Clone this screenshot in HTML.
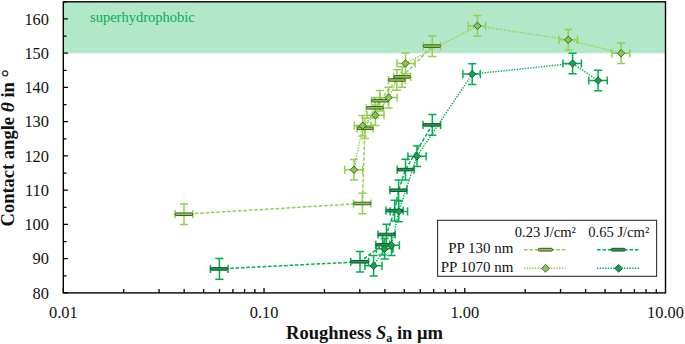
<!DOCTYPE html>
<html><head><meta charset="utf-8"><style>
html,body{margin:0;padding:0;background:#fff;}
svg{display:block;}
</style></head><body>
<svg width="685" height="344" viewBox="0 0 685 344">
<rect x="63.3" y="1.8" width="602.2" height="51.370588235294136" fill="#b2e7ca"/><text x="90" y="22" font-size="14.5" fill="#00B050" font-family="Liberation Serif">superhydrophobic</text><path d="M63.3 292.9h4.6M63.3 275.78h3.2M63.3 258.65h4.6M63.3 241.53h3.2M63.3 224.41h4.6M63.3 207.28h3.2M63.3 190.16h4.6M63.3 173.04h3.2M63.3 155.91h4.6M63.3 138.79h3.2M63.3 121.66h4.6M63.3 104.54h3.2M63.3 87.42h4.6M63.3 70.29h3.2M63.3 53.17h4.6M63.3 36.05h3.2M63.3 18.92h4.6M63.3 1.8h3.2M63.3 292.9v-4.8M123.73 292.9v-3.8M159.07 292.9v-3.8M184.15 292.9v-3.8M203.61 292.9v-3.8M219.5 292.9v-3.8M232.94 292.9v-3.8M244.58 292.9v-3.8M254.85 292.9v-3.8M264.03 292.9v-4.8M324.46 292.9v-3.8M359.81 292.9v-3.8M384.89 292.9v-3.8M404.34 292.9v-3.8M420.23 292.9v-3.8M433.67 292.9v-3.8M445.31 292.9v-3.8M455.58 292.9v-3.8M464.77 292.9v-4.8M525.19 292.9v-3.8M560.54 292.9v-3.8M585.62 292.9v-3.8M605.07 292.9v-3.8M620.97 292.9v-3.8M634.41 292.9v-3.8M646.05 292.9v-3.8M656.31 292.9v-3.8" stroke="#000" stroke-width="1.3" fill="none"/><g font-family="Liberation Serif" font-size="16.4" fill="#111"><text transform="translate(49,298.5) scale(1,1.05)" text-anchor="end">80</text><text transform="translate(49,264.25) scale(1,1.05)" text-anchor="end">90</text><text transform="translate(49,230.01) scale(1,1.05)" text-anchor="end">100</text><text transform="translate(49,195.76) scale(1,1.05)" text-anchor="end">110</text><text transform="translate(49,161.51) scale(1,1.05)" text-anchor="end">120</text><text transform="translate(49,127.26) scale(1,1.05)" text-anchor="end">130</text><text transform="translate(49,93.02) scale(1,1.05)" text-anchor="end">140</text><text transform="translate(49,58.77) scale(1,1.05)" text-anchor="end">150</text><text transform="translate(49,24.52) scale(1,1.05)" text-anchor="end">160</text><text transform="translate(63.3,318) scale(1,1.05)" text-anchor="middle">0.01</text><text transform="translate(264.03,318) scale(1,1.05)" text-anchor="middle">0.10</text><text transform="translate(464.77,318) scale(1,1.05)" text-anchor="middle">1.00</text><text transform="translate(665.5,318) scale(1,1.05)" text-anchor="middle">10.00</text></g><text x="364.5" y="338.5" text-anchor="middle" font-family="Liberation Serif" font-weight="bold" font-size="18.5" fill="#111">Roughness <tspan font-style="italic">S</tspan><tspan font-size="12" dy="3">a</tspan><tspan dy="-3"> in μm</tspan></text><text transform="translate(14,147.9) rotate(-90)" text-anchor="middle" font-family="Liberation Serif" font-weight="bold" font-size="18.5" fill="#111">Contact angle <tspan font-style="italic" font-size="19.5">θ</tspan> in <tspan font-size="20.5" dy="1.8">°</tspan></text><path d="M184 214.2 L362.4 203.5 L364.9 128.3 L375 107.8 L379.8 100.7 L396.8 80 L402.1 76.9 L432.3 46.1" stroke="#92D050" stroke-width="1.5" fill="none" stroke-dasharray="3.6 1.8"/><path d="M354 169.8 L362.7 125.7 L375.4 115.2 L388.5 97.6 L405.5 63.4 L477.4 25.9 L568.2 39.8 L621.1 53.3" stroke="#92D050" stroke-width="1.5" fill="none" stroke-dasharray="1.35 1.35"/><path d="M219.4 268.9 L360 261.8 L382.6 244.8 L386.4 234.5 L394.6 210.6 L398.6 190.2 L405.5 169.6 L432.3 124.9" stroke="#00B050" stroke-width="1.5" fill="none" stroke-dasharray="3.6 1.8"/><path d="M373.6 265.8 L384.6 248.7 L391.5 245.3 L398.8 211.4 L417 156.3 L472.2 74.1 L572.6 63.5 L598.1 80.5" stroke="#00B050" stroke-width="1.5" fill="none" stroke-dasharray="1.35 1.35"/><path d="M184 203.9V224.5M179.9 203.9H188.1M179.9 224.5H188.1M175 214.2H192.8M175 210.1V218.3M192.8 210.1V218.3M362.4 193.2V213.8M358.3 193.2H366.5M358.3 213.8H366.5M353.4 203.5H371M353.4 199.4V207.6M371 199.4V207.6M364.9 118V138.6M360.8 118H369M360.8 138.6H369M357 128.3H373.3M357 124.2V132.4M373.3 124.2V132.4M375 97.5V118.1M370.9 97.5H379.1M370.9 118.1H379.1M366.3 107.8H383.5M366.3 103.7V111.9M383.5 103.7V111.9M379.8 90.4V111M375.7 90.4H383.9M375.7 111H383.9M371.4 100.7H388.6M371.4 96.6V104.8M388.6 96.6V104.8M396.8 69.7V90.3M392.7 69.7H400.9M392.7 90.3H400.9M388.3 80H405.3M388.3 75.9V84.1M405.3 75.9V84.1M402.1 66.6V87.2M398 66.6H406.2M398 87.2H406.2M393.7 76.9H410.6M393.7 72.8V81M410.6 72.8V81M432.3 35.8V56.4M428.2 35.8H436.4M428.2 56.4H436.4M423.2 46.1H440.6M423.2 42V50.2M440.6 42V50.2" stroke="#92D050" stroke-width="1.5" fill="none"/><path d="M354 159.5V180.1M349.9 159.5H358.1M349.9 180.1H358.1M344.7 169.8H362.6M344.7 165.7V173.9M362.6 165.7V173.9M362.7 115.4V136M358.6 115.4H366.8M358.6 136H366.8M354.4 125.7H371M354.4 121.6V129.8M371 121.6V129.8M375.4 104.9V125.5M371.3 104.9H379.5M371.3 125.5H379.5M367 115.2H384M367 111.1V119.3M384 111.1V119.3M388.5 87.3V107.9M384.4 87.3H392.6M384.4 107.9H392.6M380.1 97.6H397.1M380.1 93.5V101.7M397.1 93.5V101.7M405.5 53.1V73.7M401.4 53.1H409.6M401.4 73.7H409.6M397 63.4H415M397 59.3V67.5M415 59.3V67.5M477.4 15.6V36.2M473.3 15.6H481.5M473.3 36.2H481.5M468.3 25.9H485.7M468.3 21.8V30M485.7 21.8V30M568.2 29.5V50.1M564.1 29.5H572.3M564.1 50.1H572.3M559 39.8H577.5M559 35.7V43.9M577.5 35.7V43.9M621.1 43V63.6M617 43H625.2M617 63.6H625.2M611.8 53.3H629.8M611.8 49.2V57.4M629.8 49.2V57.4" stroke="#92D050" stroke-width="1.5" fill="none"/><rect x="175.3" y="212.9" width="17.2" height="2.6" rx="0.6" fill="#86cc4a" stroke="#34501f" stroke-width="0.9"/><rect x="353.7" y="202.2" width="17" height="2.6" rx="0.6" fill="#86cc4a" stroke="#34501f" stroke-width="0.9"/><rect x="357.3" y="127" width="15.7" height="2.6" rx="0.6" fill="#86cc4a" stroke="#34501f" stroke-width="0.9"/><rect x="366.6" y="106.5" width="16.6" height="2.6" rx="0.6" fill="#86cc4a" stroke="#34501f" stroke-width="0.9"/><rect x="371.7" y="99.4" width="16.6" height="2.6" rx="0.6" fill="#86cc4a" stroke="#34501f" stroke-width="0.9"/><rect x="388.6" y="78.7" width="16.4" height="2.6" rx="0.6" fill="#86cc4a" stroke="#34501f" stroke-width="0.9"/><rect x="394" y="75.6" width="16.3" height="2.6" rx="0.6" fill="#86cc4a" stroke="#34501f" stroke-width="0.9"/><rect x="423.5" y="44.8" width="16.8" height="2.6" rx="0.6" fill="#86cc4a" stroke="#34501f" stroke-width="0.9"/><path d="M354 166.1L357.7 169.8L354 173.5L350.3 169.8Z" fill="#86cc4a" stroke="#2e3a2a" stroke-width="0.8"/><path d="M362.7 122L366.4 125.7L362.7 129.4L359 125.7Z" fill="#86cc4a" stroke="#2e3a2a" stroke-width="0.8"/><path d="M375.4 111.5L379.1 115.2L375.4 118.9L371.7 115.2Z" fill="#86cc4a" stroke="#2e3a2a" stroke-width="0.8"/><path d="M388.5 93.9L392.2 97.6L388.5 101.3L384.8 97.6Z" fill="#86cc4a" stroke="#2e3a2a" stroke-width="0.8"/><path d="M405.5 59.7L409.2 63.4L405.5 67.1L401.8 63.4Z" fill="#86cc4a" stroke="#2e3a2a" stroke-width="0.8"/><path d="M477.4 22.2L481.1 25.9L477.4 29.6L473.7 25.9Z" fill="#86cc4a" stroke="#2e3a2a" stroke-width="0.8"/><path d="M568.2 36.1L571.9 39.8L568.2 43.5L564.5 39.8Z" fill="#86cc4a" stroke="#2e3a2a" stroke-width="0.8"/><path d="M621.1 49.6L624.8 53.3L621.1 57L617.4 53.3Z" fill="#86cc4a" stroke="#2e3a2a" stroke-width="0.8"/><path d="M219.4 258.6V279.2M215.3 258.6H223.5M215.3 279.2H223.5M210.4 268.9H228M210.4 264.8V273M228 264.8V273M360 251.5V272.1M355.9 251.5H364.1M355.9 272.1H364.1M350.8 261.8H368.6M350.8 257.7V265.9M368.6 257.7V265.9M382.6 234.5V255.1M378.5 234.5H386.7M378.5 255.1H386.7M375.8 244.8H389.6M375.8 240.7V248.9M389.6 240.7V248.9M386.4 224.2V244.8M382.3 224.2H390.5M382.3 244.8H390.5M378 234.5H395.2M378 230.4V238.6M395.2 230.4V238.6M394.6 200.3V220.9M390.5 200.3H398.7M390.5 220.9H398.7M386 210.6H403.2M386 206.5V214.7M403.2 206.5V214.7M398.6 179.9V200.5M394.5 179.9H402.7M394.5 200.5H402.7M389.9 190.2H407M389.9 186.1V194.3M407 186.1V194.3M405.5 159.3V179.9M401.4 159.3H409.6M401.4 179.9H409.6M397.2 169.6H414.1M397.2 165.5V173.7M414.1 165.5V173.7M432.3 114.6V135.2M428.2 114.6H436.4M428.2 135.2H436.4M423 124.9H440.6M423 120.8V129M440.6 120.8V129" stroke="#00B050" stroke-width="1.5" fill="none"/><path d="M373.6 255.5V276.1M369.5 255.5H377.7M369.5 276.1H377.7M365 265.8H382M365 261.7V269.9M382 261.7V269.9M384.6 238.4V259M380.5 238.4H388.7M380.5 259H388.7M376.3 248.7H393M376.3 244.6V252.8M393 244.6V252.8M391.5 235V255.6M387.4 235H395.6M387.4 255.6H395.6M383.4 245.3H399.4M383.4 241.2V249.4M399.4 241.2V249.4M398.8 201.1V221.7M394.7 201.1H402.9M394.7 221.7H402.9M390.2 211.4H407.6M390.2 207.3V215.5M407.6 207.3V215.5M417 146V166.6M412.9 146H421.1M412.9 166.6H421.1M407.9 156.3H426.1M407.9 152.2V160.4M426.1 152.2V160.4M472.2 63.8V84.4M468.1 63.8H476.3M468.1 84.4H476.3M462.9 74.1H480.3M462.9 70V78.2M480.3 70V78.2M572.6 53.2V73.8M568.5 53.2H576.7M568.5 73.8H576.7M562.9 63.5H581.4M562.9 59.4V67.6M581.4 59.4V67.6M598.1 70.2V90.8M594 70.2H602.2M594 90.8H602.2M588.8 80.5H607.3M588.8 76.4V84.6M607.3 76.4V84.6" stroke="#00B050" stroke-width="1.5" fill="none"/><rect x="210.7" y="267.6" width="17" height="2.6" rx="0.6" fill="#0aa84a" stroke="#1c4428" stroke-width="0.9"/><rect x="351.1" y="260.5" width="17.2" height="2.6" rx="0.6" fill="#0aa84a" stroke="#1c4428" stroke-width="0.9"/><rect x="376.1" y="243.5" width="13.2" height="2.6" rx="0.6" fill="#0aa84a" stroke="#1c4428" stroke-width="0.9"/><rect x="378.3" y="233.2" width="16.6" height="2.6" rx="0.6" fill="#0aa84a" stroke="#1c4428" stroke-width="0.9"/><rect x="386.3" y="209.3" width="16.6" height="2.6" rx="0.6" fill="#0aa84a" stroke="#1c4428" stroke-width="0.9"/><rect x="390.2" y="188.9" width="16.5" height="2.6" rx="0.6" fill="#0aa84a" stroke="#1c4428" stroke-width="0.9"/><rect x="397.5" y="168.3" width="16.3" height="2.6" rx="0.6" fill="#0aa84a" stroke="#1c4428" stroke-width="0.9"/><rect x="423.3" y="123.6" width="17" height="2.6" rx="0.6" fill="#0aa84a" stroke="#1c4428" stroke-width="0.9"/><path d="M373.6 262.1L377.3 265.8L373.6 269.5L369.9 265.8Z" fill="#0aa84a" stroke="#2e3a2a" stroke-width="0.8"/><path d="M384.6 245L388.3 248.7L384.6 252.4L380.9 248.7Z" fill="#0aa84a" stroke="#2e3a2a" stroke-width="0.8"/><path d="M391.5 241.6L395.2 245.3L391.5 249L387.8 245.3Z" fill="#0aa84a" stroke="#2e3a2a" stroke-width="0.8"/><path d="M398.8 207.7L402.5 211.4L398.8 215.1L395.1 211.4Z" fill="#0aa84a" stroke="#2e3a2a" stroke-width="0.8"/><path d="M417 152.6L420.7 156.3L417 160L413.3 156.3Z" fill="#0aa84a" stroke="#2e3a2a" stroke-width="0.8"/><path d="M472.2 70.4L475.9 74.1L472.2 77.8L468.5 74.1Z" fill="#0aa84a" stroke="#2e3a2a" stroke-width="0.8"/><path d="M572.6 59.8L576.3 63.5L572.6 67.2L568.9 63.5Z" fill="#0aa84a" stroke="#2e3a2a" stroke-width="0.8"/><path d="M598.1 76.8L601.8 80.5L598.1 84.2L594.4 80.5Z" fill="#0aa84a" stroke="#2e3a2a" stroke-width="0.8"/><rect x="63.3" y="1.8" width="602.2" height="291.09999999999997" fill="none" stroke="#000" stroke-width="1.4"/><rect x="437.6" y="220.3" width="219" height="56" fill="#fff" stroke="#333" stroke-width="1.1"/><g font-family="Liberation Serif" font-size="15" fill="#111"><text x="514.8" y="237.1" font-size="14.6">0.23 J/cm²</text><text x="588.2" y="237.1" font-size="14.6">0.65 J/cm²</text><text x="513.5" y="253.4" text-anchor="end">PP 130 nm</text><text x="513.5" y="271.5" text-anchor="end">PP 1070 nm</text></g><path d="M524 249.7H565.5" stroke="#92D050" stroke-width="1.5" stroke-dasharray="3.6 1.8"/><path d="M597 249.7H639" stroke="#00B050" stroke-width="1.5" stroke-dasharray="3.6 1.8"/><rect x="538.3" y="248.3" width="14.2" height="2.8" rx="1.2" fill="#86cc4a" stroke="#2e3a2a" stroke-width="0.9"/><rect x="611.1" y="248.3" width="14" height="2.8" rx="1.2" fill="#0aa84a" stroke="#2e3a2a" stroke-width="0.9"/><path d="M524 268.3H565.5" stroke="#92D050" stroke-width="1.5" stroke-dasharray="1.35 1.35"/><path d="M597 268.3H639" stroke="#00B050" stroke-width="1.5" stroke-dasharray="1.35 1.35"/><path d="M545.5 264.4L549.4 268.3L545.5 272.2L541.6 268.3Z" fill="#86cc4a" stroke="#2e3a2a" stroke-width="0.8"/><path d="M618.6 264.4L622.5 268.3L618.6 272.2L614.7 268.3Z" fill="#0aa84a" stroke="#2e3a2a" stroke-width="0.8"/>
</svg></body></html>
